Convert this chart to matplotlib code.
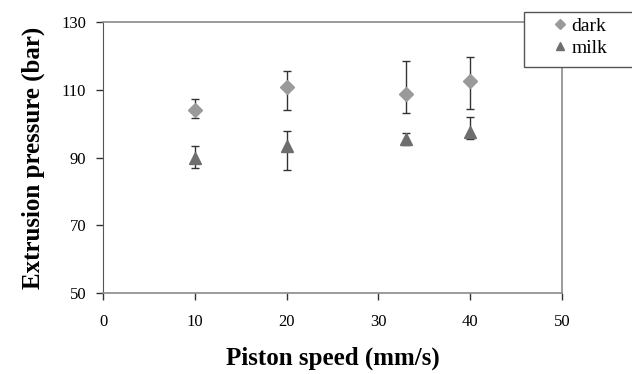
import matplotlib
matplotlib.use("Agg")
import matplotlib.pyplot as plt
from matplotlib.patches import Rectangle

plt.rcParams["font.family"] = ["Liberation Serif", "DejaVu Serif"]

speed = [10, 20, 33, 40]

dark_mean = [104.1, 110.9, 108.7, 112.7]
dark_err_low = [2.4, 7.0, 5.5, 8.5]
dark_err_high = [3.1, 4.7, 9.7, 6.9]

milk_mean = [90.0, 93.5, 95.4, 97.4]
milk_err_low = [3.0, 7.3, 1.7, 2.0]
milk_err_high = [3.5, 4.3, 1.9, 4.7]

x_ticks = [0, 10, 20, 30, 40, 50]
y_ticks = [50, 70, 90, 110, 130]

DARK_COLOR = "#9a9a9a"
MILK_COLOR = "#6e6e6e"
SPINE_COLOR = "#8a8a8a"

W, H = 632, 374

fig = plt.figure(figsize=(W / 100, H / 100), dpi=100)
ax = fig.add_axes([103 / W, 1 - 293 / H, (562 - 103) / W, (293 - 22) / H])

ax.errorbar(
    speed,
    dark_mean,
    yerr=[dark_err_low, dark_err_high],
    fmt="D",
    markersize=7,
    color=DARK_COLOR,
    ecolor="#333333",
    elinewidth=1,
    capsize=3,
    capthick=1,
    label="dark",
)

ax.errorbar(
    speed,
    milk_mean,
    yerr=[milk_err_low, milk_err_high],
    fmt="^",
    markersize=8,
    color=MILK_COLOR,
    ecolor="#333333",
    elinewidth=1,
    capsize=3,
    capthick=1,
    label="milk",
)

ax.set_xlim(0, 50)
ax.set_ylim(50, 130)
ax.set_xticks(x_ticks)
ax.set_yticks(y_ticks)

ax.tick_params(
    direction="out",
    length=5,
    width=1,
    color="#333333",
    labelsize=12,
)
ax.tick_params(axis="x", pad=10)
ax.tick_params(axis="y", pad=7)

for side in ["top", "right", "bottom"]:
    ax.spines[side].set_color(SPINE_COLOR)
    ax.spines[side].set_linewidth(1.2)
ax.spines["left"].set_color("#555555")

ax.set_xlabel(
    "Piston speed (mm/s)",
    fontsize=18,
    fontweight="bold",
    labelpad=12,
)
ax.set_ylabel(
    "Extrusion pressure (bar)",
    fontsize=18,
    fontweight="bold",
    labelpad=12,
)

# legend box sits over the top-right corner and runs off the figure edge
box = Rectangle(
    (524 / W, 1 - 67 / H),
    0.2,
    55 / H,
    transform=fig.transFigure,
    facecolor="white",
    edgecolor="#555555",
    linewidth=1,
    zorder=5,
)
fig.patches.append(box)

handles, labels = ax.get_legend_handles_labels()
handles = [h[0] for h in handles]
legend = fig.legend(
    handles,
    labels,
    loc="upper left",
    bbox_to_anchor=(550 / W, 1 - 17 / H),
    fontsize=14,
    frameon=False,
    handlelength=1.0,
    handletextpad=0.1,
    borderpad=0,
    labelspacing=0.25,
    borderaxespad=0,
    markerscale=0.8,
)
legend.set_zorder(6)

fig.savefig("out.png", dpi=100, facecolor="white")
